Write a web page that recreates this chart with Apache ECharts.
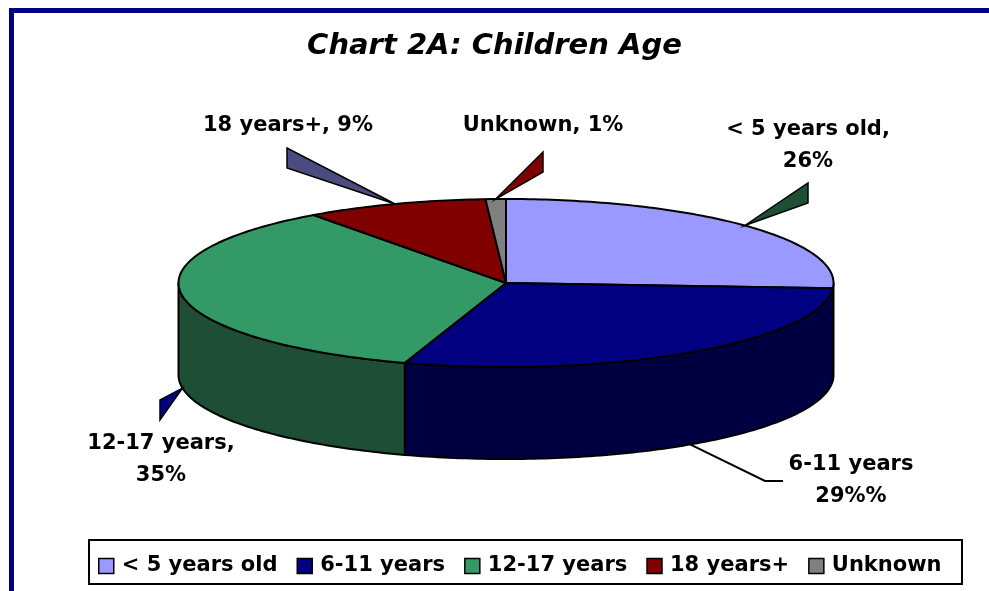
<!DOCTYPE html>
<html>
<head>
<meta charset="utf-8">
<script src="https://cdn.jsdelivr.net/npm/echarts@6/dist/echarts.min.js"></script>
<style>
  html, body { margin: 0; padding: 0; background: #fff; }
  #main { width: 989px; height: 591px; }
</style>
</head>
<body>
<div id="main"></div>
<script>
// data
var categories = ['< 5 years old', '6-11 years', '12-17 years', '18 years+', 'Unknown'];
var values = [26, 29, 35, 9, 1];
var labelTexts = ['< 5 years old,\n26%', '6-11 years\n29%%', '12-17 years,\n35%', '18 years+, 9%', 'Unknown, 1%'];

var topColors = ['#9999ff', '#000080', '#339966', '#800000', '#808080'];
var sideColors = ['#4d4d80', '#000040', '#1e4e36', '#400000', '#404040'];
var leaderColors = ['#1e4e36', '#000000', '#000080', '#4b4b80', '#800000'];
// label centre and leader end (x, y1, y2) per slice
var labelPos = [[808, 146], [851, 481], [161, 460], [288, 126], [543, 126]];
var leaderEnd = [[808, 183, 203], [783, 481, 481], [160, 400, 420], [287, 148, 168], [543, 152, 172]];

// 3d pie geometry
var cx = 506, cy = 283, rx = 327.5, ry = 84, depth = 92;
var total = values.reduce(function (a, b) { return a + b; }, 0);
var starts = [];
var acc = 0;
values.forEach(function (v) { starts.push(acc); acc += v; });

var FONT = 'DejaVu Sans';

function pt(deg, dy) {
    var r = deg * Math.PI / 180;
    return [cx + rx * Math.sin(r), cy - ry * Math.cos(r) + (dy || 0)];
}

function arc(a0, a1, dy) {
    var pts = [];
    var n = Math.max(2, Math.ceil(Math.abs(a1 - a0)));
    for (var k = 0; k <= n; k++) pts.push(pt(a0 + (a1 - a0) * k / n, dy));
    return pts;
}

function makeRender(idx) {
    return function (params, api) {
        var v = api.value(0);
        var a0 = starts[idx] / total * 360;
        var a1 = a0 + v / total * 360;
        var children = [];

        // side wall, only the front half is visible
        var s = Math.max(a0, 90), e = Math.min(a1, 270);
        if (e > s) {
            var side = arc(s, e, 0).concat(arc(e, s, depth));
            children.push({
                type: 'polygon',
                shape: { points: side },
                style: { fill: sideColors[idx], stroke: '#000', lineWidth: 2, lineJoin: 'round' }
            });
        }

        // top face
        var top = [[cx, cy]].concat(arc(a0, a1, 0));
        children.push({
            type: 'polygon',
            shape: { points: top },
            style: { fill: topColors[idx], stroke: '#000', lineWidth: 2, lineJoin: 'round' }
        });

        // leader
        var mid = (a0 + a1) / 2;
        var anchor = pt(mid, (mid > 90 && mid < 270) ? depth : 0);
        var le = leaderEnd[idx];
        if (le[1] === le[2]) {
            var bend = [le[0] - 18, le[1]];
            children.push({
                type: 'polyline',
                shape: { points: [anchor, bend, [le[0], le[1]]] },
                style: { stroke: '#000', lineWidth: 2, fill: null }
            });
        } else {
            children.push({
                type: 'polygon',
                shape: { points: [anchor, [le[0], le[1]], [le[0], le[2]]] },
                style: { fill: leaderColors[idx], stroke: '#000', lineWidth: 1.5 }
            });
        }

        // label
        children.push({
            type: 'text',
            style: {
                text: labelTexts[idx],
                x: labelPos[idx][0],
                y: labelPos[idx][1],
                align: 'center',
                verticalAlign: 'middle',
                fill: '#000',
                font: 'bold 21px "' + FONT + '"',
                lineHeight: 32
            }
        });

        return { type: 'group', children: children };
    };
}

var myChart = echarts.init(document.getElementById('main'));

var series = categories.map(function (name, i) {
    return {
        name: name,
        type: 'custom',
        coordinateSystem: 'none',
        renderItem: makeRender(i),
        itemStyle: { color: topColors[i] },
        data: [[values[i]]],
        silent: true,
        animation: false
    };
});

var option = {
    backgroundColor: '#fff',
    color: topColors,
    title: {
        text: 'Chart 2A: Children Age',
        left: 'center',
        top: 27,
        textStyle: {
            fontFamily: FONT,
            fontSize: 29,
            fontWeight: 'bold',
            fontStyle: 'italic',
            color: '#000'
        }
    },
    legend: {
        data: categories,
        left: 93,
        top: 549,
        icon: 'rect',
        itemWidth: 15,
        itemHeight: 15,
        itemGap: 19,
        selectedMode: false,
        itemStyle: { borderColor: '#000', borderWidth: 1.5 },
        textStyle: {
            fontFamily: FONT,
            fontSize: 21,
            fontWeight: 'bold',
            color: '#000',
            lineHeight: 24,
            padding: [0, 0, 0, 3]
        }
    },
    graphic: [
        {
            type: 'rect',
            shape: { x: 11.5, y: 10.5, width: 1100, height: 700 },
            style: { fill: null, stroke: '#000080', lineWidth: 5 },
            silent: true
        },
        {
            type: 'rect',
            shape: { x: 89, y: 540, width: 873, height: 44 },
            style: { fill: null, stroke: '#000', lineWidth: 2 },
            silent: true
        }
    ],
    series: series
};
myChart.setOption(option);
</script>
</body>
</html>
